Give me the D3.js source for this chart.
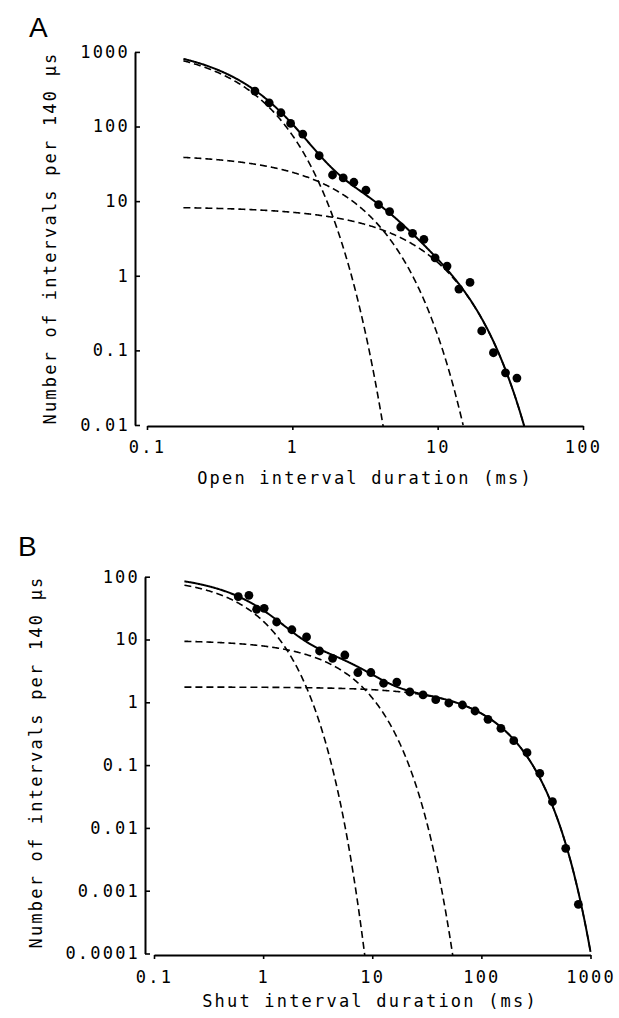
<!DOCTYPE html>
<html>
<head>
<meta charset="utf-8">
<script src="https://cdn.jsdelivr.net/npm/d3@7"></script>
<style>
  html, body { margin: 0; padding: 0; background: #fff; }
  svg text { font-family: "DejaVu Sans Mono", monospace; fill: #000; }
</style>
</head>
<body>
<svg id="fig" width="619" height="1018"></svg>
<script>
// ---- Open intervals: observed histogram (number per 140 µs bin) ----
const openDuration = [0.553, 0.693, 0.835, 0.973, 1.18, 1.53, 1.89, 2.24, 2.65, 3.21, 3.92, 4.67,
                      5.57, 6.72, 8.04, 9.6, 11.6, 14.0, 16.7, 20.1, 24.2, 29.3, 35.1];
const openCount = [299, 208, 153, 110, 79.3, 40.6, 22.4, 20.5, 17.9, 14.0, 9.0, 7.25,
                   4.5, 3.7, 3.08, 1.74, 1.35, 0.664, 0.815, 0.182, 0.093, 0.050, 0.0426];
// Fitted exponential components (amplitude per bin at t = 0, time constant in ms)
const openAmplitude = [1250, 42.6, 8.42];
const openTau = [0.358, 1.79, 5.82];
const openFitStart = 0.178;

// ---- Shut intervals ----
const shutDuration = [0.592, 0.741, 0.872, 1.023, 1.33, 1.835, 2.50, 3.29, 4.33, 5.61, 7.38, 9.71,
                      12.7, 16.8, 22.1, 29.2, 38.2, 50.3, 67.1, 87.5, 115, 151, 198, 262, 343, 448, 593, 774];
const shutCount = [48.1, 50.6, 30.3, 31.4, 19.0, 14.3, 11.0, 6.56, 5.02, 5.66, 2.98, 2.98,
                   2.01, 2.10, 1.46, 1.31, 1.10, 0.975, 0.906, 0.727, 0.536, 0.385, 0.245, 0.1575,
                   0.074, 0.0261, 0.00473, 0.000607];
const shutAmplitude = [99.8, 9.73, 1.75];
const shutTau = [0.615, 4.73, 103];
const shutFitStart = 0.19;

// ---- Axis ticks ----
const openXTicks = [0.1, 1, 10, 100];
const openXLabels = ["0.1", "1", "10", "100"];
const openYTicks = [0.01, 0.1, 1, 10, 100, 1000];
const openYLabels = ["0.01", "0.1", "1", "10", "100", "1000"];
const shutXTicks = [0.1, 1, 10, 100, 1000];
const shutXLabels = ["0.1", "1", "10", "100", "1000"];
const shutYTicks = [0.0001, 0.001, 0.01, 0.1, 1, 10, 100];
const shutYLabels = ["0.0001", "0.001", "0.01", "0.1", "1", "10", "100"];

const yTitle = "Number of intervals per 140 \u03bcs";

const svg = d3.select("#fig");

function drawPanel(p) {
  const g = svg.append("g");
  const x = d3.scaleLog().domain(p.xDomain).range(p.xRange);
  const y = d3.scaleLog().domain(p.yDomain).range(p.yRange);

  // panel letter
  g.append("text")
    .attr("x", p.letterX).attr("y", p.letterY)
    .style("font-family", "'Liberation Sans', Arial, sans-serif")
    .style("font-size", "28px")
    .text(p.letter);

  // y axis (ticks inward)
  const yAxis = d3.axisLeft(y)
    .tickValues(p.yTicks)
    .tickFormat((d, i) => p.yLabels[i])
    .tickSizeInner(-5).tickSizeOuter(0).tickPadding(5);
  const ya = g.append("g").attr("transform", `translate(${p.yAxisX},0)`).call(yAxis);

  // x axis
  const xAxis = d3.axisBottom(x)
    .tickValues(p.xTicks)
    .tickFormat((d, i) => p.xLabels[i])
    .tickSizeInner(4).tickSizeOuter(0).tickPadding(p.xPad);
  const xa = g.append("g").attr("transform", `translate(0,${p.xAxisY})`).call(xAxis);

  [ya, xa].forEach(a => {
    a.select(".domain").attr("stroke", "#000").attr("stroke-width", 2);
    a.selectAll(".tick line").attr("stroke", "#000").attr("stroke-width", 1.6);
    a.selectAll("text")
      .style("font-family", "'DejaVu Sans Mono', monospace")
      .style("font-size", "17px")
      .style("letter-spacing", "2.2px")
      .attr("fill", "#000");
  });

  // axis titles
  g.append("text")
    .attr("transform", `translate(${p.yTitleX},${p.yTitleY}) rotate(-90)`)
    .attr("text-anchor", "middle")
    .style("font-size", "17px").style("letter-spacing", "2.2px")
    .text(yTitle);
  g.append("text")
    .attr("x", p.xTitleX).attr("y", p.xTitleY)
    .attr("text-anchor", "middle")
    .style("font-size", "17px").style("letter-spacing", "2.2px")
    .text(p.xTitle);

  // clip curves to the plotting area
  const clipId = "clip" + p.letter;
  svg.append("clipPath").attr("id", clipId)
    .append("rect")
    .attr("x", p.yAxisX).attr("y", 0)
    .attr("width", p.xRange[1] - p.yAxisX + 2)
    .attr("height", p.xAxisY);

  // fitted densities on a log-spaced time grid
  const grid = d3.range(0, 601).map(i =>
    Math.exp(Math.log(p.fitStart) + (Math.log(p.xDomain[1]) - Math.log(p.fitStart)) * i / 600));
  const yMin = p.yDomain[0];
  const comp = (k, t) => p.amp[k] * Math.exp(-t / p.tau[k]);
  const line = d3.line().x(d => x(d[0])).y(d => y(d[1]));
  const trimmed = pts => {
    const out = [];
    for (const d of pts) { out.push(d); if (d[1] < yMin) break; }
    return out;
  };

  const curves = g.append("g").attr("clip-path", `url(#${clipId})`);
  p.amp.forEach((a, k) => {
    curves.append("path")
      .attr("d", line(trimmed(grid.map(t => [t, comp(k, t)]))))
      .attr("fill", "none").attr("stroke", "#000")
      .attr("stroke-width", 1.6).attr("stroke-dasharray", "7,4");
  });
  curves.append("path")
    .attr("d", line(trimmed(grid.map(t => [t, d3.sum(p.amp, (a, k) => comp(k, t))]))))
    .attr("fill", "none").attr("stroke", "#000").attr("stroke-width", 2);

  // observed points
  g.append("g").selectAll("circle")
    .data(p.xs.map((v, i) => [v, p.ys[i]]))
    .join("circle")
    .attr("cx", d => x(d[0])).attr("cy", d => y(d[1]))
    .attr("r", 4.4).attr("fill", "#000");
}

drawPanel({
  letter: "A", letterX: 29, letterY: 37,
  xDomain: [0.1, 100], xRange: [147, 583],
  yDomain: [0.01, 1000], yRange: [425, 51.9],
  yAxisX: 135, xAxisY: 426, xPad: 11,
  xTicks: openXTicks, xLabels: openXLabels,
  yTicks: openYTicks, yLabels: openYLabels,
  yTitleX: 56, yTitleY: 238,
  xTitle: "Open interval duration (ms)", xTitleX: 365, xTitleY: 484,
  xs: openDuration, ys: openCount,
  amp: openAmplitude, tau: openTau, fitStart: openFitStart
});

drawPanel({
  letter: "B", letterX: 18, letterY: 556,
  xDomain: [0.1, 1000], xRange: [154, 590.5],
  yDomain: [0.0001, 100], yRange: [953.5, 576.7],
  yAxisX: 145, xAxisY: 955, xPad: 11.5,
  xTicks: shutXTicks, xLabels: shutXLabels,
  yTicks: shutYTicks, yLabels: shutYLabels,
  yTitleX: 42, yTitleY: 762,
  xTitle: "Shut interval duration (ms)", xTitleX: 370, xTitleY: 1007,
  xs: shutDuration, ys: shutCount,
  amp: shutAmplitude, tau: shutTau, fitStart: shutFitStart
});
</script>
</body>
</html>
